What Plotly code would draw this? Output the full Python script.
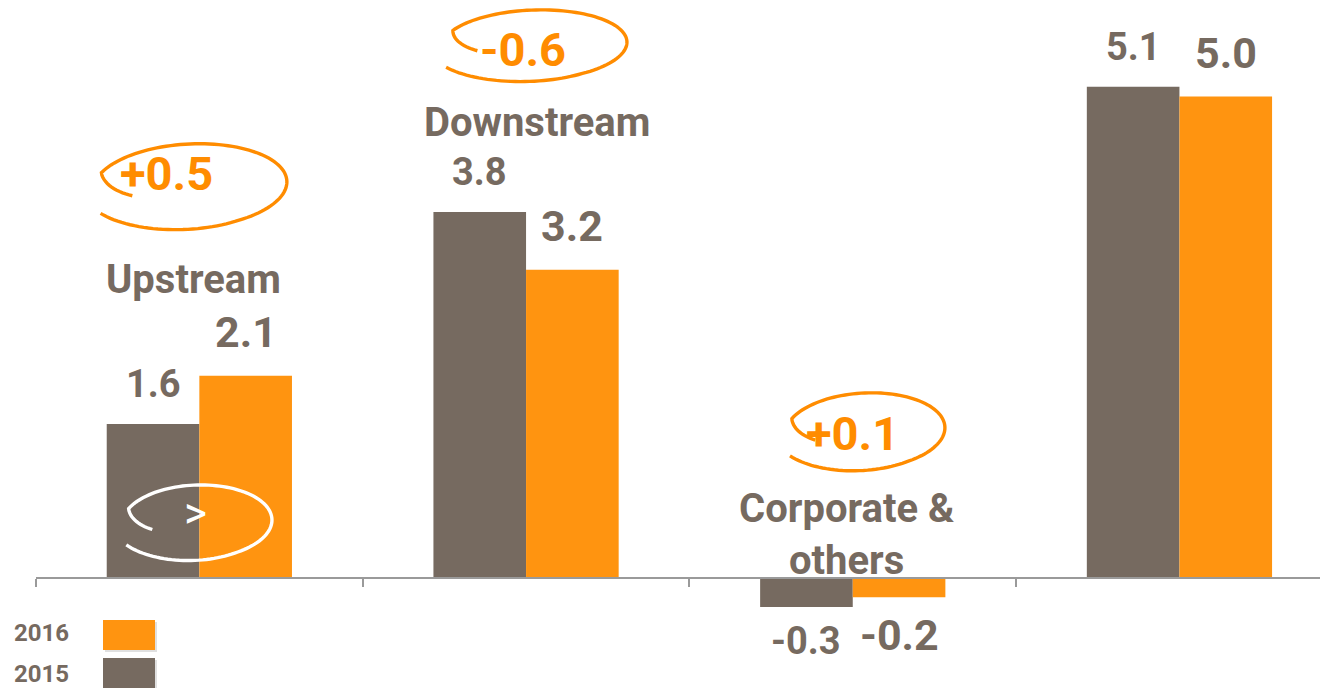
import math
import plotly.graph_objects as go

categories = ["Upstream", "Downstream", "Corporate & others", "Group"]
cat_labels = ["Upstream", "Downstream", "Corporate &<br>others", "Group"]
values_2015 = [1.6, 3.8, -0.3, 5.1]
values_2016 = [2.1, 3.2, -0.2, 5.0]
deltas = ["+0.5", "-0.6", "+0.1"]
series_names = ["2015", "2016"]

BROWN = "#766a60"
ORANGE = "#ff9410"
ORANGE_LINE = "#ff8c00"
FONT = "Roboto"

PAGE_OFF = 8          # default body margin of the html page
W, H = 1328 - PAGE_OFF, 688 - PAGE_OFF
ML = 36 - PAGE_OFF
PW = W - ML
ZERO_PX = 578 - PAGE_OFF
PX_PER_UNIT = 96.3
CAT_PX = 326.7


def px_to_paper(px, py):
    """Convert a window pixel position to paper coordinates."""
    return (px - PAGE_OFF - ML) / PW, 1 - (py - PAGE_OFF) / H


def hand_ellipse(cx, cy, rx, ry, start, sweep, r0, r1, rot=0.0, n=120):
    pts = []
    for k in range(n + 1):
        t = k / n
        a = math.radians(start + sweep * t)
        ang = sweep * t
        if ang < 40:
            r = r0 + (1 - r0) * ang / 40
        elif ang > sweep - 90:
            r = 1 + (r1 - 1) * (ang - (sweep - 90)) / 90
        else:
            r = 1
        x = rx * r * math.cos(a)
        y = ry * r * math.sin(a)
        rr = math.radians(rot)
        xr = x * math.cos(rr) - y * math.sin(rr)
        yr = x * math.sin(rr) + y * math.cos(rr)
        pts.append(px_to_paper(cx + xr, cy + yr))
    return "M " + " L ".join(f"{p[0]:.5f},{p[1]:.5f}" for p in pts)


fig = go.Figure()
fig.add_trace(go.Bar(x=categories, y=values_2015, name=series_names[0],
                     marker=dict(color=BROWN, line=dict(width=0))))
fig.add_trace(go.Bar(x=categories, y=values_2016, name=series_names[1],
                     marker=dict(color=ORANGE, line=dict(width=0))))

ymax = ZERO_PX / PX_PER_UNIT
ymin = -(H - ZERO_PX) / PX_PER_UNIT

annotations = []
off = 0.1417
for i in range(len(categories)):
    for v, dx, fs, up, dn in [(values_2015[i], -off, 38, 40, -34),
                              (values_2016[i], off, 43, 44, -38)]:
        annotations.append(dict(
            x=i + dx, y=v, xref="x", yref="y", text=f"{v:.1f}", showarrow=False,
            yshift=up if v >= 0 else dn, yanchor="middle",
            font=dict(family=FONT, size=fs, color=BROWN, weight="bold")))

# category labels
cat_shift = [96, 90, 44, 106]
cat_xshift = [-6, 11, -6, -55]
for i, lab in enumerate(cat_labels):
    top = max(values_2015[i], values_2016[i], 0)
    annotations.append(dict(
        x=i, y=top, xref="x", yref="y", text=lab, showarrow=False,
        yshift=cat_shift[i], xshift=cat_xshift[i], yanchor="middle",
        font=dict(family=FONT, size=40, color=BROWN, weight="bold")))

# delta bubbles
delta_pos = [(166, 173), (523, 49), (852, 433)]
for d, (px, py) in zip(deltas, delta_pos):
    x, y = px_to_paper(px, py)
    annotations.append(dict(
        x=x, y=y, xref="paper", yref="paper", text=d, showarrow=False,
        xanchor="center", yanchor="middle",
        font=dict(family=FONT, size=47, color=ORANGE_LINE, weight="bold")))

x, y = px_to_paper(195, 513)
annotations.append(dict(x=x, y=y, xref="paper", yref="paper", text="&gt;",
                        showarrow=False, xanchor="center", yanchor="middle",
                        font=dict(family=FONT, size=44, color="white")))

shapes = []
ellipses = [
    (190, 186, 97, 42, 165, 345, 0.62, 1.08, -3, ORANGE_LINE),
    (534, 45, 93, 35, 170, 340, 0.62, 1.1, -2, ORANGE_LINE),
    (865, 431, 80, 38, 165, 345, 0.65, 1.1, -3, ORANGE_LINE),
    (197, 522, 75, 37, 165, 345, 0.62, 1.1, -2, "white"),
]
for cx, cy, rx, ry, st, sw, r0, r1, rot, col in ellipses:
    shapes.append(dict(type="path", xref="paper", yref="paper",
                       path=hand_ellipse(cx, cy, rx, ry, st, sw, r0, r1, rot),
                       line=dict(color=col, width=3.4)))

# legend
leg = [(series_names[1], ORANGE, 620, 650, 633), (series_names[0], BROWN, 658, 688, 674)]
for name, col, y0, y1, ty in leg:
    a0 = px_to_paper(105, y0 + 2)
    a1 = px_to_paper(157, y1 + 2)
    shapes.append(dict(type="rect", xref="paper", yref="paper",
                       x0=a0[0], x1=a1[0], y0=a1[1], y1=a0[1],
                       line=dict(width=0), fillcolor="rgba(0,0,0,0.12)"))
    p0 = px_to_paper(103, y0)
    p1 = px_to_paper(155, y1)
    shapes.append(dict(type="rect", xref="paper", yref="paper",
                       x0=p0[0], x1=p1[0], y0=p1[1], y1=p0[1],
                       line=dict(width=0), fillcolor=col))
    tx, tyy = px_to_paper(41, ty)
    annotations.append(dict(x=tx, y=tyy, xref="paper", yref="paper", text=name,
                            showarrow=False, xanchor="center", yanchor="middle",
                            font=dict(family=FONT, size=24, color=BROWN, weight="bold")))

fig.update_layout(
    width=W, height=H,
    margin=dict(l=ML, r=0, t=0, b=0),
    paper_bgcolor="white", plot_bgcolor="white",
    barmode="group", bargap=0.433, bargroupgap=0,
    showlegend=False,
    annotations=annotations,
    shapes=shapes,
    xaxis=dict(type="category", categoryorder="array", categoryarray=categories,
               range=[-0.5, -0.5 + PW / CAT_PX], anchor="free",
               position=(H - ZERO_PX) / H, showline=True, linecolor="#9a9a9a",
               linewidth=2, ticks="outside", tickson="boundaries", ticklen=8,
               tickcolor="#9a9a9a", tickwidth=2, showticklabels=False,
               showgrid=False, zeroline=False, fixedrange=True),
    yaxis=dict(range=[ymin, ymax], visible=False, showgrid=False, zeroline=False,
               fixedrange=True),
)

fig.write_html("out.html")
